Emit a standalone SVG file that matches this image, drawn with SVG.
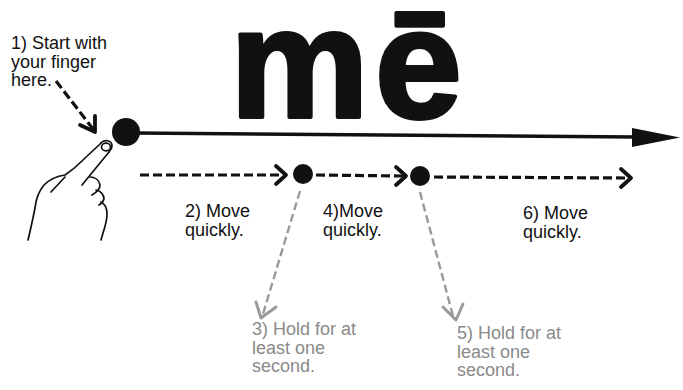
<svg xmlns="http://www.w3.org/2000/svg" width="683" height="390" viewBox="0 0 683 390">
  <style>
    .lbl { font-family: "Liberation Sans", Arial, sans-serif; font-size: 18px; fill: #111; }
    .lbl-gray { font-family: "Liberation Sans", Arial, sans-serif; font-size: 18px; fill: #8a8a8a; }
    .word { font-family: "Liberation Sans", Arial, sans-serif; font-size: 156px; font-weight: bold; fill: #111; stroke: #111; stroke-width: 4; stroke-linejoin: round; }
    .dash { fill: none; stroke: #111; stroke-width: 3.2; stroke-dasharray: 9 4; }
    .dash-gray { fill: none; stroke: #9a9a9a; stroke-width: 2.4; stroke-dasharray: 8 4; }
    .head { fill: none; stroke: #111; stroke-width: 3.8; stroke-linecap: round; stroke-linejoin: round; }
    .head-gray { fill: none; stroke: #9a9a9a; stroke-width: 3; stroke-linecap: round; stroke-linejoin: round; }
    .hand { fill: none; stroke: #111; stroke-width: 1.7; stroke-linecap: round; stroke-linejoin: round; }
  </style>

  <rect width="683" height="390" fill="#fff"/>

  <!-- the word being traced -->
  <g id="word">
    <text class="word" y="117"><tspan x="230">m</tspan><tspan x="375">ē</tspan></text>
  </g>

  <!-- connectors -->
  <g id="connectors">
    <!-- solid timeline -->
    <line x1="135" y1="133" x2="636" y2="137" stroke="#111" stroke-width="3.6"/>
    <polygon points="632,128 680,137.5 632,147" fill="#111"/>

    <!-- pointer to start dot -->
    <line class="dash" x1="56" y1="81" x2="93" y2="129"/>
    <polyline class="head" points="80,125 95,132 95,116"/>

    <!-- move 2 -->
    <line class="dash" x1="140" y1="175" x2="285" y2="175"/>
    <polyline class="head" points="276,166 286,175 276,184"/>

    <!-- move 4 -->
    <line class="dash" x1="316" y1="175" x2="404" y2="176"/>
    <polyline class="head" points="396,167 406,176 396,185"/>

    <!-- move 6 -->
    <line class="dash" x1="434" y1="177" x2="629" y2="178"/>
    <polyline class="head" points="621,169 631,178 621,187"/>

    <!-- hold 3 -->
    <line class="dash-gray" x1="300" y1="191" x2="263" y2="314"/>
    <polyline class="head-gray" points="256,302 261,318 276,307"/>

    <!-- hold 5 -->
    <line class="dash-gray" x1="420" y1="192" x2="453" y2="316"/>
    <polyline class="head-gray" points="443,307 456,320 463,304"/>
  </g>

  <!-- stop points -->
  <g id="start-dot">
    <circle cx="126" cy="132" r="14" fill="#111"/>
  </g>
  <g id="hold-dot-1">
    <circle cx="303" cy="174" r="10" fill="#111"/>
  </g>
  <g id="hold-dot-2">
    <circle cx="420" cy="176" r="10" fill="#111"/>
  </g>

  <!-- pointing hand -->
  <g id="hand">
    <ellipse cx="106" cy="147" rx="4.5" ry="3.8" class="hand"/>
    <path class="hand" d="M101,143 C104,139 112,140 112,146 C112,149 111,150 109,152"/>
    <path class="hand" d="M101,143 C95,149 88,155 82,161 C76,167 71,171 65,175 C58,176 50,179 44,185 C38,192 36,199 35,208 C33,218 31,228 28,240"/>
    <path class="hand" d="M65,177 L51,192"/>
    <path class="hand" d="M109,152 L82,185"/>
    <path class="hand" d="M90,177 C95,177 99,180 100,185 C100,189 97,192 92,195"/>
    <path class="hand" d="M96,190 C101,191 104,195 104,199 C103,202 101,204 99,205"/>
    <path class="hand" d="M101,202 C105,204 107,208 107,214 C107,221 105,227 103,233 L101,240"/>
  </g>

  <!-- step labels -->
  <g id="label-1">
    <text class="lbl" x="11" y="49">1) Start with</text>
    <text class="lbl" x="11" y="67.5">your finger</text>
    <text class="lbl" x="11" y="86">here.</text>
  </g>
  <g id="label-2">
    <text class="lbl" x="185" y="217">2) Move</text>
    <text class="lbl" x="185" y="235.5">quickly.</text>
  </g>
  <g id="label-3">
    <text class="lbl-gray" x="252" y="335">3) Hold for at</text>
    <text class="lbl-gray" x="252" y="353.5">least one</text>
    <text class="lbl-gray" x="252" y="372">second.</text>
  </g>
  <g id="label-4">
    <text class="lbl" x="323" y="217">4)Move</text>
    <text class="lbl" x="323" y="235.5">quickly.</text>
  </g>
  <g id="label-5">
    <text class="lbl-gray" x="457" y="339">5) Hold for at</text>
    <text class="lbl-gray" x="457" y="357.5">least one</text>
    <text class="lbl-gray" x="457" y="376">second.</text>
  </g>
  <g id="label-6">
    <text class="lbl" x="523" y="219">6) Move</text>
    <text class="lbl" x="523" y="237.5">quickly.</text>
  </g>
</svg>
